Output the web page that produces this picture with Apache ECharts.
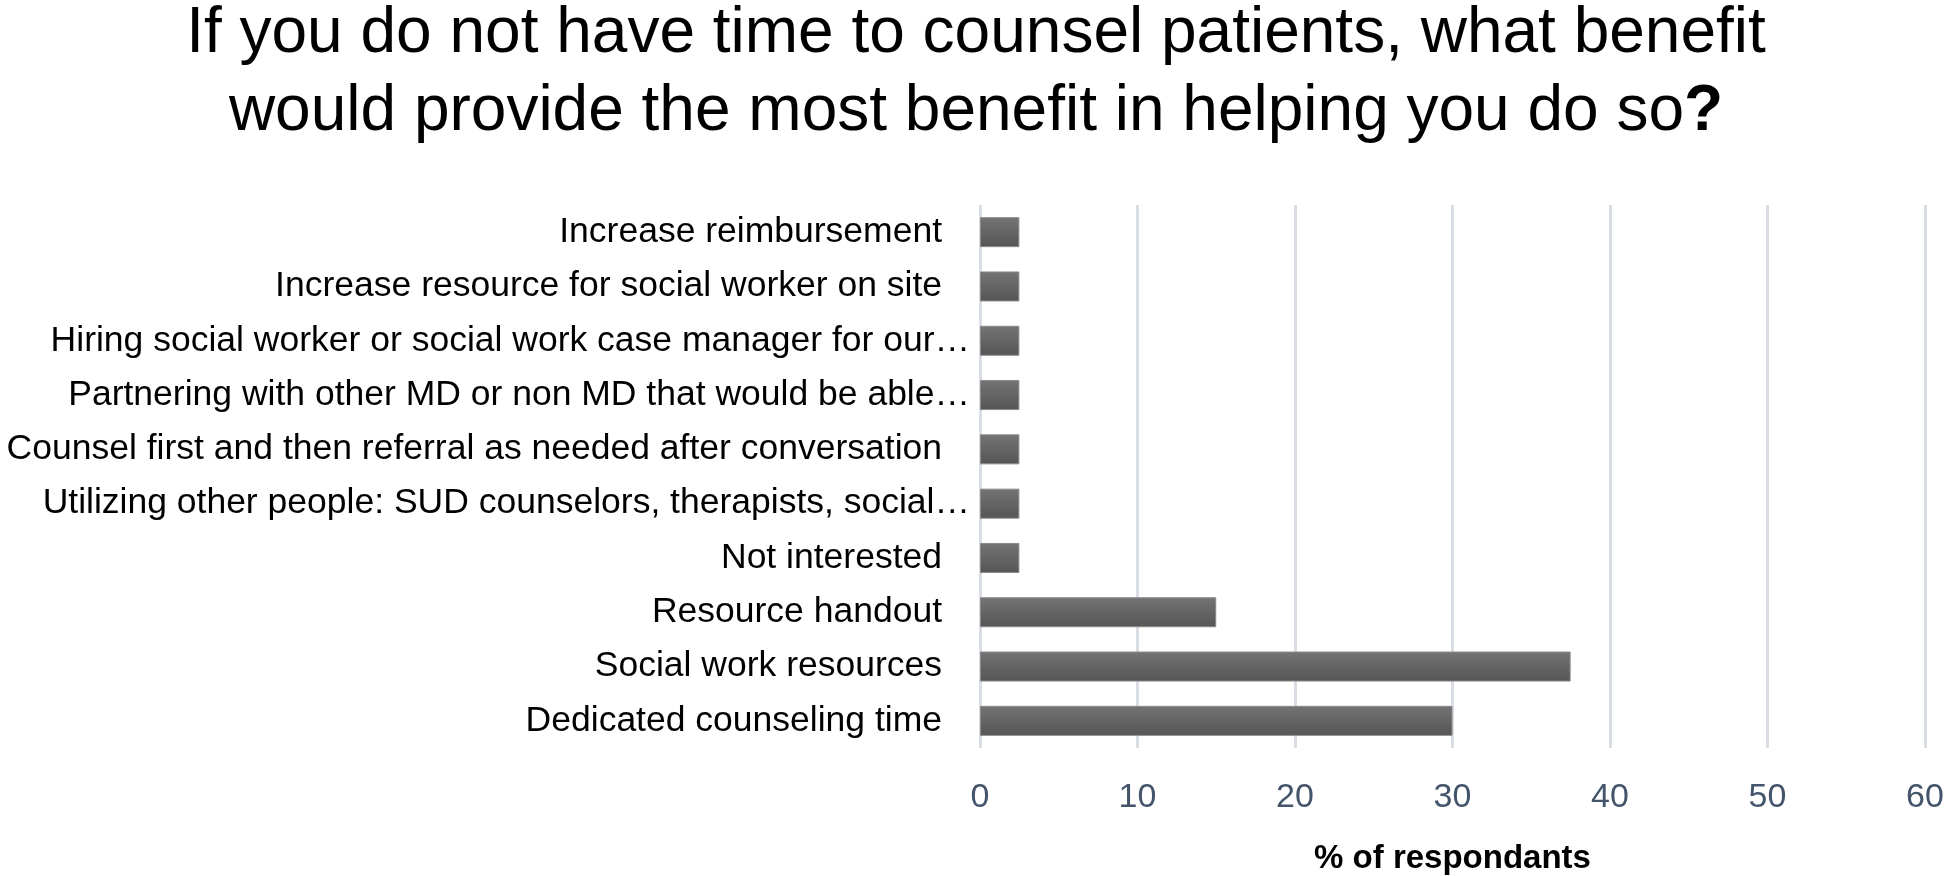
<!DOCTYPE html>
<html>
<head>
<meta charset="utf-8">
<script src="https://cdn.jsdelivr.net/npm/echarts@6/dist/echarts.min.js"></script>
<style>
html,body{margin:0;padding:0;background:#fff;}
#chart{width:1952px;height:876px;}
</style>
</head>
<body>
<div id="chart"></div>
<script>
const titleLine1 = 'If you do not have time to counsel patients, what benefit';
const titleLine2 = 'would provide the most benefit in helping you do so';
const categories = [
  'Increase reimbursement',
  'Increase resource for social worker on site',
  'Hiring social worker or social work case manager for our\u2026',
  'Partnering with other MD or non MD that would be able\u2026',
  'Counsel first and then referral as needed after conversation',
  'Utilizing other people: SUD counselors, therapists, social\u2026',
  'Not interested',
  'Resource handout',
  'Social work resources',
  'Dedicated counseling time'
];
const values = [2.5, 2.5, 2.5, 2.5, 2.5, 2.5, 2.5, 15, 37.5, 30];
const xMin = 0, xMax = 60, xInterval = 10;
const xAxisName = '% of respondants';

const FONT = "'Liberation Sans', Arial, sans-serif";
const chart = echarts.init(document.getElementById('chart'), null, {renderer: 'canvas'});
chart.setOption({
  backgroundColor: '#ffffff',
  animation: false,
  title: {
    text: titleLine1 + '\n' + titleLine2 + '{q|?}',
    left: 'center',
    top: -10,
    textStyle: {
      fontFamily: FONT, fontSize: 64, fontWeight: 'normal', color: '#000', lineHeight: 78,
      rich: { q: { fontFamily: FONT, fontSize: 64, fontWeight: 'bold', color: '#000', lineHeight: 78 } }
    }
  },
  grid: { left: 980, right: 27, top: 205, bottom: 128, containLabel: false, outerBoundsMode: 'none' },
  xAxis: {
    type: 'value', min: xMin, max: xMax, interval: xInterval,
    name: xAxisName, nameLocation: 'middle', nameGap: 94,
    nameTextStyle: { fontFamily: FONT, fontSize: 33, fontWeight: 'bold', color: '#000' },
    axisLine: { show: false }, axisTick: { show: false },
    axisLabel: { fontFamily: FONT, fontSize: 34, color: '#44546A', margin: 33 },
    splitLine: { show: true, lineStyle: { color: '#D9DEE4', width: 3 } }
  },
  yAxis: {
    type: 'category', data: categories, inverse: true,
    axisLine: { show: false }, axisTick: { show: false },
    axisLabel: {
      margin: 10,
      formatter: function (v) { return v.endsWith('\u2026') ? '{t|' + v + '}' : '{p|' + v + '}'; },
      rich: {
        t: { fontFamily: FONT, fontSize: 35.5, color: '#000' },
        p: { fontFamily: FONT, fontSize: 35.5, color: '#000', padding: [0, 28, 0, 0] }
      }
    }
  },
  series: [{
    type: 'bar', data: values, barWidth: 30,
    itemStyle: {
      color: new echarts.graphic.LinearGradient(0, 0, 0, 1, [
        { offset: 0, color: '#747474' }, { offset: 1, color: '#555555' }
      ]),
      borderColor: '#8a8a8a', borderWidth: 1
    }
  }]
});
</script>
</body>
</html>
